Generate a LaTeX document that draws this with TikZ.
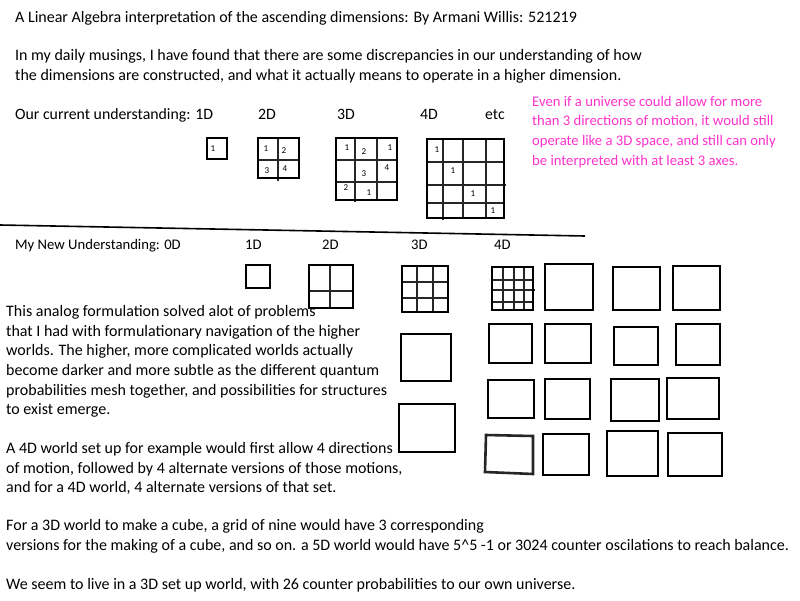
\documentclass[tikz,border=0pt]{standalone}
\usepackage{fontspec}
\setmainfont{Carlito}
\definecolor{pinkc}{RGB}{255,51,204}
\tikzset{
  txt/.style={anchor=base west, inner sep=0pt, font=\fontsize{16}{19.5}\selectfont},
  smalltxt/.style={anchor=base west, inner sep=0pt, font=\fontsize{14.67}{19.5}\selectfont},
  pinktxt/.style={smalltxt, text=pinkc},
  box/.style={line width=2.6pt, line join=miter},
  sbox/.style={line width=2.2pt, line join=miter},
  gridl/.style={line width=1.8pt, black!85},
  sgrid/.style={line width=1.4pt, black!85},
  num/.style={inner sep=0pt, font=\fontsize{9}{10}\selectfont}
}
\begin{document}
\begin{tikzpicture}[x=1pt,y=-1pt]
\useasboundingbox[fill=white] (0,0) rectangle (800,600);

% ---- header text ----
\node[txt] (title) at (15,22) {A Linear Algebra interpretation of the ascending dimensions: By Armani Willis: 521219};
\node[txt] (intro1) at (15,60) {In my daily musings, I have found that there are some discrepancies in our understanding of how};
\node[txt] (intro2) at (15,80) {the dimensions are constructed, and what it actually means to operate in a higher dimension.};
\node[txt, font=\fontsize{15.8}{19.5}\selectfont] (cur) at (15,119) {Our current understanding: 1D};
\node[txt, font=\fontsize{15.8}{19.5}\selectfont] (c2) at (258,119) {2D};
\node[txt, font=\fontsize{15.8}{19.5}\selectfont] (c3) at (337,119) {3D};
\node[txt, font=\fontsize{15.8}{19.5}\selectfont] (c4) at (420,119) {4D};
\node[txt, font=\fontsize{15.8}{19.5}\selectfont] (cetc) at (485,119) {etc};

\node[pinktxt] (p1) at (532,106) {Even if a universe could allow for more};
\node[pinktxt] (p2) at (532,125) {than 3 directions of motion, it would still};
\node[pinktxt] (p3) at (532,145) {operate like a 3D space, and still can only};
\node[pinktxt] (p4) at (532,165) {be interpreted with at least 3 axes.};

% ---- current understanding grids ----
% 1D
\draw[sbox] (207,138) rectangle (227,159);
\node[num] (n1a) at (213,149) {1};
% 2D
\draw[sgrid] (278,138) -- (278,181);
\draw[sgrid] (258,160) -- (299,160);
\draw[sbox] (258,138) rectangle (299,178);
\node[num] (n2a) at (266,149) {1};
\node[num] (n2b) at (284,151) {2};
\node[num] (n2c) at (267,171) {3};
\node[num] (n2d) at (285,169) {4};
% 3D
\draw[sgrid] (355,138) -- (355,202);
\draw[sgrid] (377,138) -- (377,200);
\draw[sgrid] (336,160) -- (397,160);
\draw[sgrid] (336,182) -- (397,182);
\draw[sbox] (336,138) rectangle (397,200);
\node[num] (n3a) at (347,148) {1};
\node[num] (n3b) at (364,152) {2};
\node[num] (n3c) at (390,148) {1};
\node[num] (n3d) at (364,174) {3};
\node[num] (n3e) at (387,168) {4};
\node[num] (n3f) at (346,188) {2};
\node[num] (n3g) at (369,193) {1};
% 4D
\draw[sgrid] (443,139) -- (443,220);
\draw[sgrid] (463,139) -- (463,218);
\draw[sgrid] (486,139) -- (486,218);
\draw[sgrid] (427,162) -- (504,162);
\draw[sgrid] (427,185) -- (506,185);
\draw[sgrid] (427,203) -- (504,203);
\draw[sbox] (427,139) rectangle (504,218);
\node[num] (n4a) at (437,150) {1};
\node[num] (n4b) at (453,171) {1};
\node[num] (n4c) at (473,194) {1};
\node[num] (n4d) at (493,211) {1};

% ---- separator ----
\coordinate (sepA) at (0,225);
\coordinate (sepB) at (585,236);
\draw[line width=1.6pt] (sepA) -- (sepB);

% ---- new understanding ----
\node[smalltxt] (new) at (15,249) {My New Understanding: 0D};
\node[smalltxt] (d1) at (245,249) {1D};
\node[smalltxt] (d2) at (322,249) {2D};
\node[smalltxt] (d3) at (411,249) {3D};
\node[smalltxt] (d4) at (494,249) {4D};

% body text
\node[txt] (b1) at (6,316) {This analog formulation solved alot of problems};
\node[txt] (b2) at (6,336) {that I had with formulationary navigation of the higher};
\node[txt] (b3) at (6,355) {worlds. The higher, more complicated worlds actually};
\node[txt] (b4) at (6,375) {become darker and more subtle as the different quantum};
\node[txt] (b5) at (6,395) {probabilities mesh together, and possibilities for structures};
\node[txt] (b6) at (6,414) {to exist emerge.};
\node[txt] (b7) at (6,453) {A 4D world set up for example would first allow 4 directions};
\node[txt] (b8) at (6,473) {of motion, followed by 4 alternate versions of those motions,};
\node[txt] (b9) at (6,492) {and for a 4D world, 4 alternate versions of that set.};
\node[txt] (b10) at (6,530) {For a 3D world to make a cube, a grid of nine would have 3 corresponding};
\node[txt] (b11) at (6,550) {versions for the making of a cube, and so on. a 5D world would have 5\textasciicircum 5 -1 or 3024 counter oscilations to reach balance.};
\node[txt] (b12) at (6,589) {We seem to live in a 3D set up world, with 26 counter probabilities to our own universe.};

% 1D
\draw[box] (246,265) rectangle (270,288);
% 2D
\draw[gridl] (330,265) -- (330,308);
\draw[gridl] (309,291) -- (353,291);
\draw[box] (309,265) rectangle (353,308);
% 3D
\draw[gridl] (417,266) -- (417,312);
\draw[gridl] (433,266) -- (433,312);
\draw[gridl] (402,282) -- (448,282);
\draw[gridl] (402,298) -- (448,298);
\draw[box] (402,266) rectangle (448,312);
% 4D grid
\foreach \gx in {503,514,524} {\draw[gridl] (\gx,267) -- (\gx,310);}
\foreach \gy in {280,290,302} {\draw[gridl] (492,\gy) -- (533,\gy);}
\draw[gridl] (533,290) -- (535,290);
\draw[box] (492,267) rectangle (533,310);

% other squares
\draw[box] (545,264) rectangle (593,310);
\draw[box] (613,267) rectangle (660,310);
\draw[box] (673,266) rectangle (720,310);

\draw[box] (401,334) rectangle (451,381);
\draw[box] (489,324) rectangle (532,363);
\draw[box] (545,324) rectangle (591,363);
\draw[box] (614,327) rectangle (658,365);
\draw[box] (676,324) rectangle (720,365);

\draw[box] (399,404) rectangle (455,452);
\draw[box] (488,380) rectangle (534,418);
\draw[box] (545,379) rectangle (590,419);
\draw[box] (611,379) rectangle (659,421);
\draw[box] (667,378) rectangle (719,419);

\draw[box, black!85] (486,435) -- (533,436) -- (533,474) -- (485,472) -- cycle;
\draw[box] (543,434) rectangle (589,475);
\draw[box] (607,431) rectangle (658,476);
\draw[box] (668,433) rectangle (722,476);
\end{tikzpicture}
\end{document}
